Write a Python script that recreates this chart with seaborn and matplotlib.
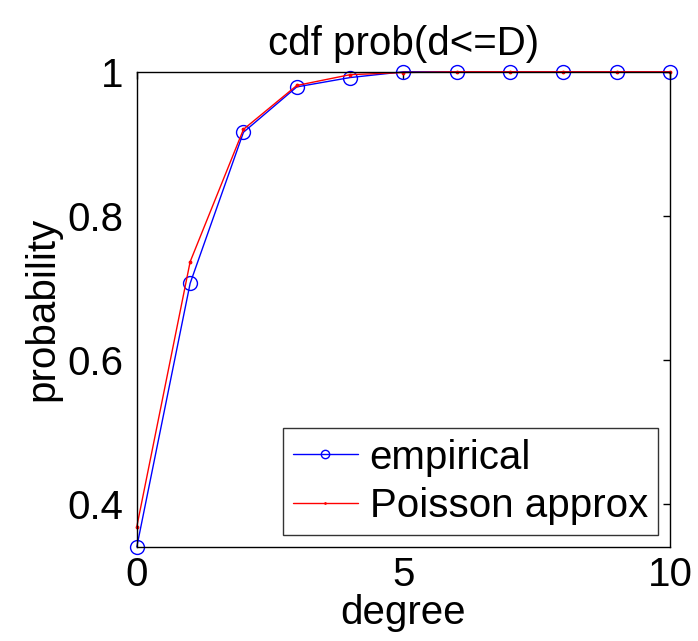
import numpy as np
import matplotlib.pyplot as plt
import pandas as pd
import seaborn as sns

degree = [0, 1, 2, 3, 4, 5, 6, 7, 8, 9, 10]
empirical = [0.340, 0.706, 0.916, 0.979, 0.992, 1.0, 1.0, 1.0, 1.0, 1.0, 1.0]
poisson = [0.368, 0.736, 0.920, 0.981, 0.996, 0.999, 1.0, 1.0, 1.0, 1.0, 1.0]

sns.set_theme(style="white")
plt.rcParams["font.family"] = ["Liberation Sans", "DejaVu Sans"]
plt.rcParams["text.color"] = "black"
plt.rcParams["axes.labelcolor"] = "black"

fs = 29

fig = plt.figure(figsize=(6.98, 6.41), dpi=100)
ax = fig.add_axes([0.196, 0.147, 0.764, 0.741])

sns.lineplot(x=degree, y=empirical, ax=ax, color="blue", marker="o",
             markersize=10, markerfacecolor="none", markeredgecolor="blue",
             markeredgewidth=1, linewidth=1, label="empirical", clip_on=False)
sns.lineplot(x=degree, y=poisson, ax=ax, color="red", marker=".",
             markersize=4, markeredgecolor="red", linewidth=1,
             label="Poisson approx", clip_on=False)

ax.set_xlim(0, 10)
ax.set_ylim(0.34, 1.0)
ax.set_xticks([0, 5, 10])
ax.set_yticks([0.4, 0.6, 0.8, 1.0])
ax.set_yticklabels(["0.4", "0.6", "0.8", "1"])
ax.tick_params(direction="in", top=True, right=True, length=5, width=1,
               labelsize=fs, colors="black")
ax.tick_params(axis="y", pad=10)
ax.tick_params(axis="x", pad=7)
for s in ax.spines.values():
    s.set_visible(True)
    s.set_color("black")
    s.set_linewidth(1)

ax.set_title("cdf prob(d<=D)", fontsize=fs, pad=12)
ax.set_xlabel("degree", fontsize=fs, labelpad=0)
ax.set_ylabel("probability", fontsize=fs, labelpad=4)

leg = ax.legend(loc="lower right", fontsize=fs, frameon=True, fancybox=False,
                edgecolor="black", borderpad=0.25, handlelength=1.6,
                handletextpad=0.3, labelspacing=0.25, borderaxespad=0.3,
                markerscale=0.6)
leg.get_frame().set_linewidth(1)

fig.savefig("out.png", dpi=100)
